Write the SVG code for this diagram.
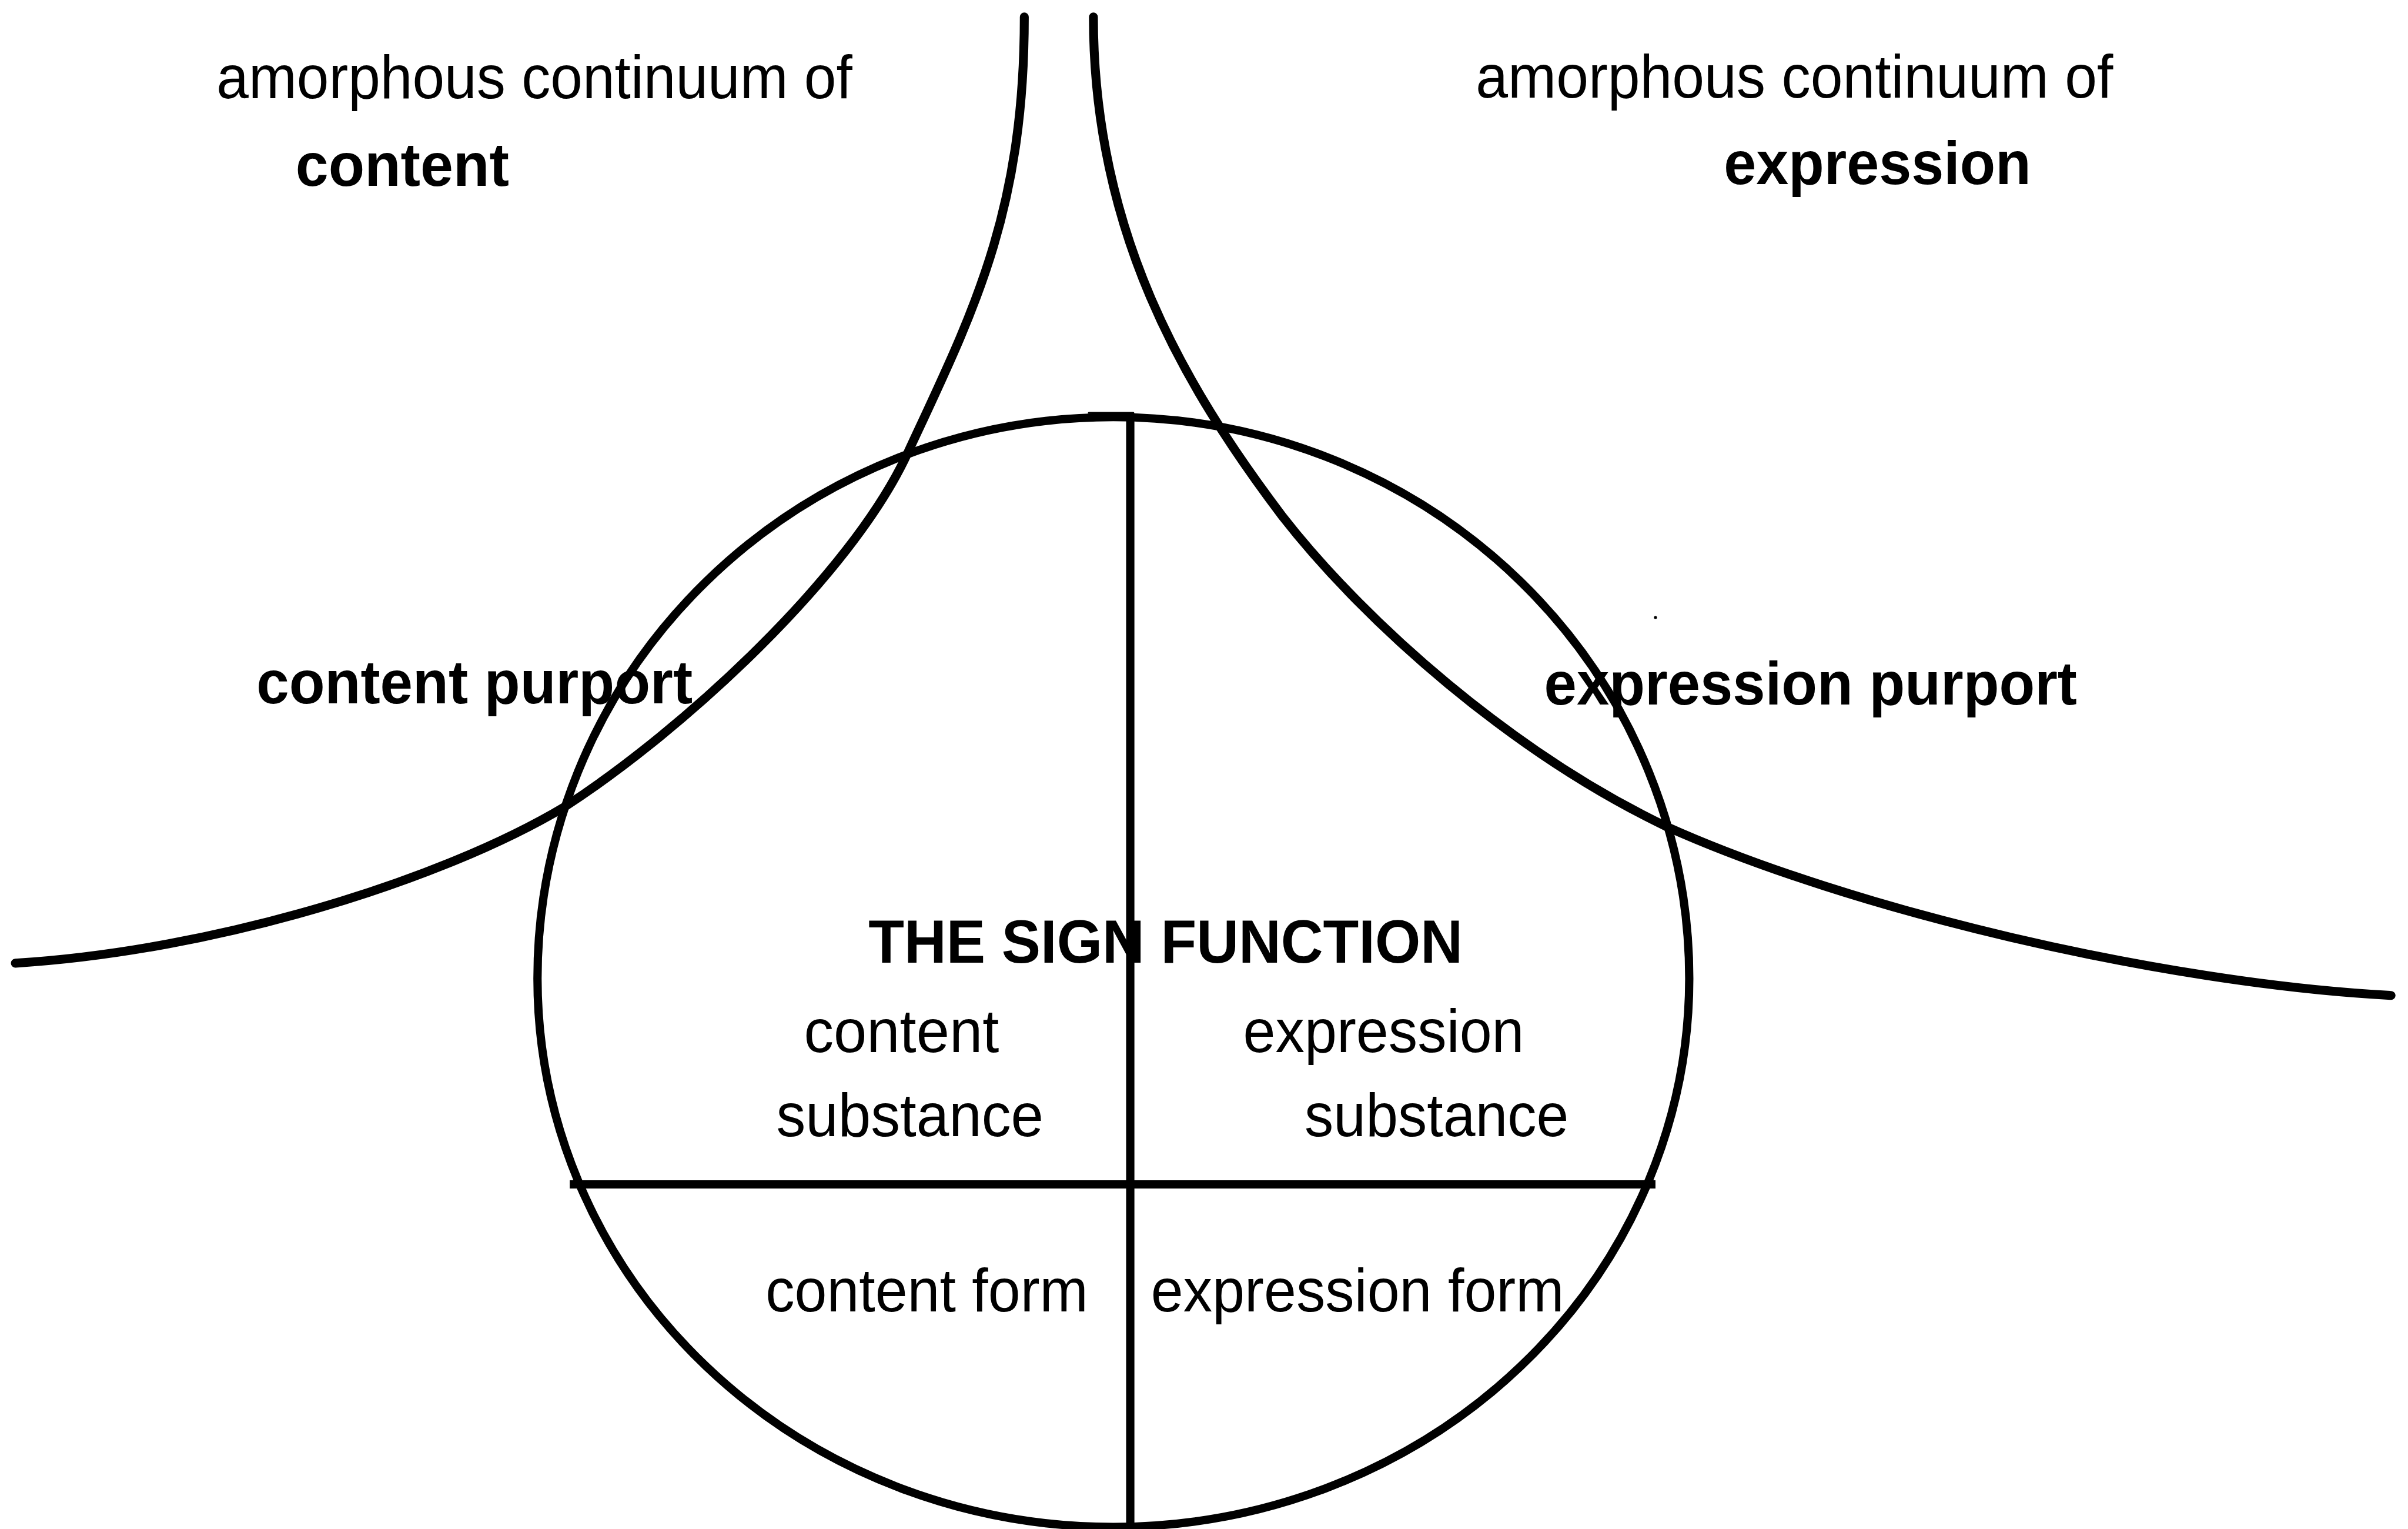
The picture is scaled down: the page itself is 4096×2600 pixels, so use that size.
<svg xmlns="http://www.w3.org/2000/svg" width="4096" height="2600" viewBox="0 0 4096 2600">
<style>
.ln{fill:none;stroke:#000;stroke-linecap:round;stroke-linejoin:round}
.cv{stroke-width:5.8}
.el{stroke-width:5.4}
.dv{stroke-width:5.4;stroke-linecap:butt}
.t{font-family:"Liberation Sans",Arial,Helvetica,sans-serif;font-size:39.5px;fill:#000}
.b{font-weight:bold}
</style>
<rect width="4096" height="2600" fill="#fff"/>
<g transform="scale(2.6122)">
<g id="connectors">
<path id="left-curve" class="ln cv" d="M667,11 C667,140 632.8,205 591,295 C554,375 445,475 368,525 C288,573 140,619 10,627"/>
<path id="right-curve" class="ln cv" d="M712,11 C712,150 770,250 835,336 C889.6,406 985,490 1085,538 C1205,592 1407,640 1557,648"/>
</g>
<g id="sign-function">
<path id="ellipse" class="ln el" d="M350,637 A375,365.5 0 0 1 1100,637 A375,357 0 0 1 350,637 Z"/>
<line id="vertical-divider" class="ln dv" x1="736" y1="271" x2="736" y2="1000"/>
<line id="horizontal-divider" class="ln dv" x1="371" y1="771" x2="1078" y2="771"/>
<line class="ln" stroke-width="1.2" x1="709" y1="268.8" x2="738" y2="268.8"/>
<circle cx="1078" cy="402" r="1" fill="#000"/>
</g>
<g id="label-continuum-content">
<text class="t" x="141" y="64" textLength="414" lengthAdjust="spacingAndGlyphs">amorphous continuum of</text>
<text class="t b" x="192.5" y="121" textLength="139" lengthAdjust="spacingAndGlyphs">content</text>
</g>
<g id="label-continuum-expression">
<text class="t" x="961" y="63.5" textLength="415" lengthAdjust="spacingAndGlyphs">amorphous continuum of</text>
<text class="t b" x="1122.5" y="120" textLength="200" lengthAdjust="spacingAndGlyphs">expression</text>
</g>
<g id="label-content-purport">
<text class="t b" x="167" y="458" textLength="284" lengthAdjust="spacingAndGlyphs">content purport</text>
</g>
<g id="label-expression-purport">
<text class="t b" x="1005.5" y="458.5" textLength="347" lengthAdjust="spacingAndGlyphs">expression purport</text>
</g>
<g id="label-sign-function">
<text class="t b" x="565.5" y="626.5" textLength="387" lengthAdjust="spacingAndGlyphs">THE SIGN FUNCTION</text>
</g>
<g id="label-content-substance">
<text class="t" x="523.5" y="685" textLength="127" lengthAdjust="spacingAndGlyphs">content</text>
<text class="t" x="505.5" y="739.5" textLength="174" lengthAdjust="spacingAndGlyphs">substance</text>
</g>
<g id="label-expression-substance">
<text class="t" x="809.5" y="685" textLength="183" lengthAdjust="spacingAndGlyphs">expression</text>
<text class="t" x="849.5" y="739.5" textLength="172" lengthAdjust="spacingAndGlyphs">substance</text>
</g>
<g id="label-content-form">
<text class="t" x="498.5" y="853.5" textLength="210" lengthAdjust="spacingAndGlyphs">content form</text>
</g>
<g id="label-expression-form">
<text class="t" x="749.5" y="853.5" textLength="269" lengthAdjust="spacingAndGlyphs">expression form</text>
</g>
</g>
</svg>
